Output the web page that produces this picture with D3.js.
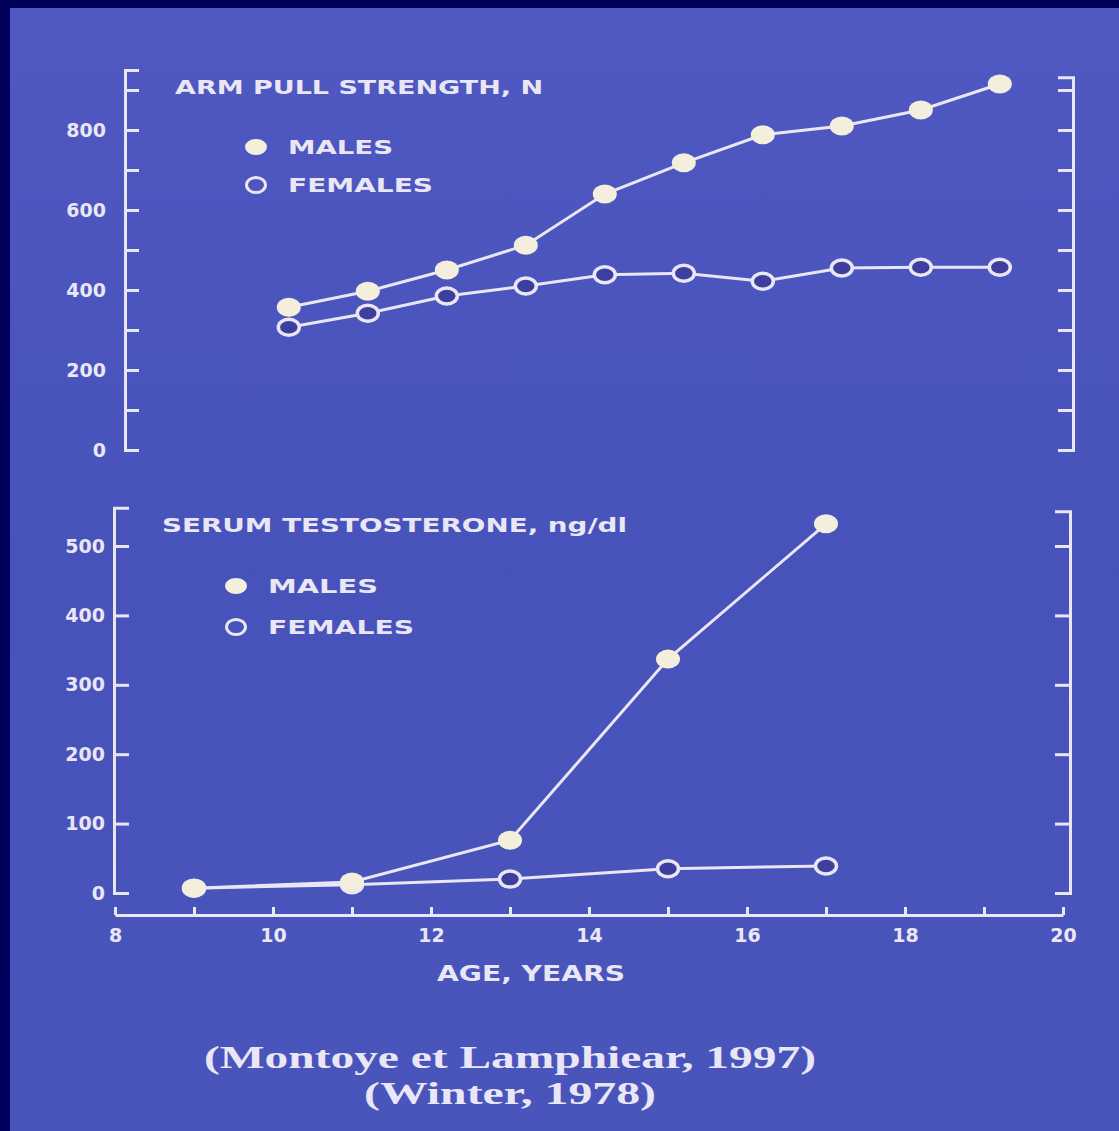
<!DOCTYPE html>
<html>
<head>
<meta charset="utf-8">
<script src="https://cdn.jsdelivr.net/npm/d3@7"></script>
<style>
  html, body { margin: 0; padding: 0; background: #00005a; }
  svg { display: block; }
</style>
</head>
<body>
<div id="chart"></div>
<script>
// Datos
const topAges = [10.2, 11.2, 12.2, 13.2, 14.2, 15.2, 16.2, 17.2, 18.2, 19.2];
const armMales = [357, 397, 450, 512, 640, 718, 788, 810, 850, 915];
const armFemales = [307, 342, 385, 410, 438, 442, 422, 455, 457, 457];

const serumAges = [9, 11, 13, 15, 17];
const serumMales = [7, 16, 76, 337, 532];
const serumFemales = [7, 12, 20, 35, 39];

const armTicks = [0, 100, 200, 300, 400, 500, 600, 700, 800, 900];
const serumTicks = [0, 100, 200, 300, 400, 500];
const ageTicks = [8, 9, 10, 11, 12, 13, 14, 15, 16, 17, 18, 19, 20];

const legendLabels = ['MALES', 'FEMALES'];
const citations = ['(Montoye et Lamphiear, 1997)', '(Winter, 1978)'];

const W = 1119, H = 1131;
const ink = '#e9e6f5';
const cream = '#f3efdc';
const hole = '#3d3f9e';
const sans = '"DejaVu Sans", "Liberation Sans", sans-serif';

const svg = d3.select('#chart').append('svg')
  .attr('width', W)
  .attr('height', H);

// Fondo de la diapositiva
const defs = svg.append('defs');
const grad = defs.append('linearGradient')
  .attr('id', 'bg').attr('x1', 0).attr('y1', 0).attr('x2', 0).attr('y2', 1);
grad.append('stop').attr('offset', '0%').attr('stop-color', '#5058c2');
grad.append('stop').attr('offset', '50%').attr('stop-color', '#4752ba');
grad.append('stop').attr('offset', '100%').attr('stop-color', '#4a55bc');

svg.append('rect').attr('width', W).attr('height', H).attr('fill', '#00005a');
svg.append('rect')
  .attr('x', 10).attr('y', 8)
  .attr('width', W - 10).attr('height', H - 8)
  .attr('fill', 'url(#bg)');

// Escalas
const x = d3.scaleLinear().domain([8, 20]).range([115, 1063]);
const yTop = d3.scaleLinear().domain([0, 950]).range([450, 70]);
const yBot = d3.scaleLinear().domain([0, 555]).range([893, 893 - 555 * 0.694]);

function styleAxis(g) {
  g.selectAll('path, line')
    .attr('stroke', ink)
    .attr('stroke-width', 3)
    .attr('fill', 'none');
  g.selectAll('text')
    .attr('fill', ink)
    .attr('font-family', sans)
    .attr('font-weight', 'bold')
    .attr('font-size', 19);
}

// Panel superior: fuerza de tracción
svg.append('g')
  .attr('transform', 'translate(125,0)')
  .call(d3.axisLeft(yTop)
    .tickValues(armTicks)
    .tickSizeInner(-14)
    .tickSizeOuter(-14)
    .tickPadding(19)
    .tickFormat(d => (d % 200 === 0 && d <= 800) ? d : ''))
  .call(styleAxis);

const yTopRight = yTop.copy().domain([0, 932]).range([yTop(0), yTop(932)]);
svg.append('g')
  .attr('transform', 'translate(1073,0)')
  .call(d3.axisRight(yTopRight)
    .tickValues(armTicks)
    .tickSizeInner(-15)
    .tickSizeOuter(-15)
    .tickFormat(''))
  .call(styleAxis);

// Panel inferior: testosterona
svg.append('g')
  .attr('transform', 'translate(114,0)')
  .call(d3.axisLeft(yBot)
    .tickValues(serumTicks)
    .tickSizeInner(-15)
    .tickSizeOuter(-15)
    .tickPadding(9))
  .call(styleAxis);

const yBotRight = yBot.copy().domain([0, 550]).range([yBot(0), yBot(550)]);
svg.append('g')
  .attr('transform', 'translate(1070,0)')
  .call(d3.axisRight(yBotRight)
    .tickValues(serumTicks)
    .tickSizeInner(-15)
    .tickSizeOuter(-15)
    .tickFormat(''))
  .call(styleAxis);

// Eje de edad
svg.append('g')
  .attr('transform', 'translate(0,915)')
  .call(d3.axisBottom(x)
    .tickValues(ageTicks)
    .tickSizeInner(-8)
    .tickSizeOuter(0)
    .tickPadding(14)
    .tickFormat(d => d % 2 === 0 ? d : ''))
  .call(styleAxis);

// Series
function drawSeries(ages, values, y, filled) {
  const pts = ages.map((a, i) => [x(a), y(values[i])]);
  svg.append('path')
    .datum(pts)
    .attr('d', d3.line())
    .attr('fill', 'none')
    .attr('stroke', ink)
    .attr('stroke-width', 3);
  svg.append('g')
    .selectAll('ellipse')
    .data(pts)
    .join('ellipse')
      .attr('cx', d => d[0])
      .attr('cy', d => d[1])
      .attr('rx', filled ? 12 : 10.5)
      .attr('ry', filled ? 9.5 : 8)
      .attr('fill', filled ? cream : hole)
      .attr('stroke', filled ? 'none' : ink)
      .attr('stroke-width', 3.5);
}

drawSeries(topAges, armFemales, yTop, false);
drawSeries(topAges, armMales, yTop, true);
drawSeries(serumAges, serumFemales, yBot, false);
drawSeries(serumAges, serumMales, yBot, true);

// Títulos y leyendas
function label(txt, x0, y0, len, size) {
  svg.append('text')
    .attr('x', x0).attr('y', y0)
    .attr('fill', ink)
    .attr('font-family', sans)
    .attr('font-weight', 'bold')
    .attr('font-size', size)
    .attr('dominant-baseline', 'central')
    .attr('textLength', len)
    .attr('lengthAdjust', 'spacingAndGlyphs')
    .text(txt);
}

label('ARM PULL STRENGTH, N', 175, 87, 368, 20);
label('SERUM TESTOSTERONE, ng/dl', 162, 525, 465, 20);
label('AGE, YEARS', 437, 974, 188, 21);

function legend(x0, rows, widths) {
  legendLabels.forEach((name, i) => {
    const yy = rows[i];
    svg.append('ellipse')
      .attr('cx', x0).attr('cy', yy)
      .attr('rx', i === 0 ? 11 : 9.5)
      .attr('ry', i === 0 ? 8 : 7.5)
      .attr('fill', i === 0 ? cream : 'none')
      .attr('stroke', i === 0 ? 'none' : ink)
      .attr('stroke-width', 3);
    label(name, x0 + 32, yy, widths[i], 20);
  });
}

legend(256, [147, 185], [105, 145]);
legend(236, [586, 627], [110, 146]);

// Citas
citations.forEach((c, i) => {
  svg.append('text')
    .attr('x', 510)
    .attr('y', 1057 + i * 36)
    .attr('text-anchor', 'middle')
    .attr('dominant-baseline', 'central')
    .attr('fill', ink)
    .attr('font-family', '"Liberation Serif", "DejaVu Serif", serif')
    .attr('font-weight', 'bold')
    .attr('font-size', 31)
    .attr('textLength', i === 0 ? 612 : 292)
    .attr('lengthAdjust', 'spacingAndGlyphs')
    .text(c);
});
</script>
</body>
</html>
